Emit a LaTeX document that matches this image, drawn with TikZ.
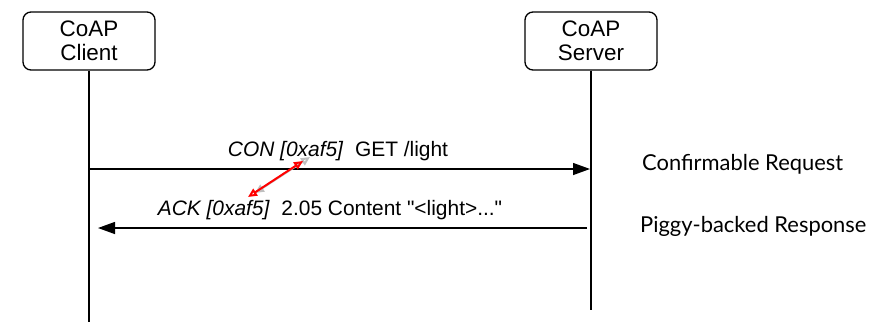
\documentclass[tikz,border=0pt]{standalone}
\usepackage{fontspec}
\setmainfont{Liberation Sans}
\newfontfamily\notefont{Lato}
\usetikzlibrary{arrows.meta}
\begin{document}
\begin{tikzpicture}[x=1bp,y=-1bp]
        % Styles for the end points, messages and notes
        \tikzset{
            peer/.style={
                draw,
                rectangle,
                rounded corners=8bp,
                line width=1.3bp,
                minimum width=132bp,
                minimum height=58bp,
                align=center,
                font=\fontsize{22.5}{24}\selectfont
            },
            lifeline/.style={
                line width=1.3bp
            },
            msg/.style={
                line width=1.3bp,
                -{Triangle[length=17bp,width=12bp]}
            },
            msglabel/.style={
                anchor=base,
                inner sep=0pt,
                font=\fontsize{21}{24}\selectfont
            },
            note/.style={
                anchor=base west,
                inner sep=0pt,
                font=\notefont\fontsize{22}{25}\selectfont
            },
            idarrow/.style={
                line width=2bp,
                {Triangle[open,length=9bp,width=8bp]}-{Triangle[open,length=9bp,width=8bp]}
            }
        }
        \useasboundingbox (0,0) rectangle (879,322);
        % End points and their lifelines
        \node[peer] (client) at (89,41) {CoAP\\Client};
        \node[peer] (server) at (591,41) {CoAP\\Server};
        \coordinate (clientend) at (89,322);
        \coordinate (serverend) at (591,310);
        \draw[lifeline] (client.south) -- (clientend);
        \draw[lifeline] (server.south) -- (serverend);
        % Request and response
        \coordinate (reqfrom) at (89,169);
        \coordinate (reqto) at (590,169);
        \coordinate (resfrom) at (587,228);
        \coordinate (resto) at (98,228);
        \draw[msg] (reqfrom) -- (reqto);
        \draw[msg] (resfrom) -- (resto);
        \node[msglabel] (conlabel) at (338,156) {\textit{CON [0xaf5]}\ \ GET /light};
        \node[msglabel] (acklabel) at (330,215) {\textit{ACK [0xaf5]}\ \ 2.05 Content \textquotedbl<light>...\textquotedbl};
        % Matching message IDs
        \coordinate (idlow) at (248,197);
        \coordinate (idhigh) at (303,161);
        \draw[gray!50, idarrow] ([xshift=7bp,yshift=4bp] idlow) -- ([xshift=7bp,yshift=4bp] idhigh);
        \draw[red, idarrow] (idlow) -- (idhigh);
        % Notes on the right
        \node[note] (connote) at (642,170) {Confirmable Request};
        \node[note] (piggynote) at (640,232) {Piggy-backed Response};
\end{tikzpicture}
\end{document}
